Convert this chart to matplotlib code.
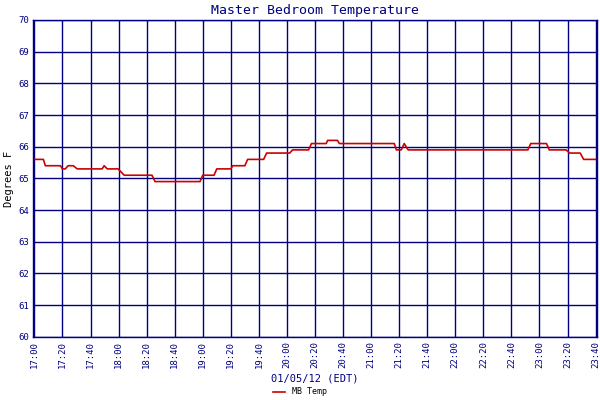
import matplotlib
matplotlib.use("Agg")
import matplotlib.pyplot as plt

minutes = [0, 6.4, 7.8, 18.5, 20, 22, 24, 27.7, 30.5, 48.3, 49.7, 51.9, 59.7, 64, 83.8, 86, 118, 120, 128,
           130, 140, 141.4, 150, 152, 163.4, 165.5, 182, 184, 195.4, 197.5, 208, 209, 216, 217.4, 256.5,
           258, 261.5, 263.6, 266.4, 351.7, 353.8, 365, 367, 379, 381.5, 389, 391.5, 400]
temps = [65.6, 65.6, 65.4, 65.4, 65.3, 65.3, 65.4, 65.4, 65.3, 65.3, 65.4, 65.3, 65.3, 65.1, 65.1, 64.9, 64.9, 65.1, 65.1,
         65.3, 65.3, 65.4, 65.4, 65.6, 65.6, 65.8, 65.8, 65.9, 65.9, 66.1, 66.1, 66.2, 66.2, 66.1, 66.1,
         65.9, 65.9, 66.1, 65.9, 65.9, 66.1, 66.1, 65.9, 65.9, 65.8, 65.8, 65.6, 65.6]
tick_labels = ["17:00", "17:20", "17:40", "18:00", "18:20", "18:40", "19:00", "19:20", "19:40", "20:00",
               "20:20", "20:40", "21:00", "21:20", "21:40", "22:00", "22:20", "22:40", "23:00", "23:20", "23:40"]
y_ticks = list(range(60, 71))

navy = "#000080"
plt.rcParams['font.family'] = ['DejaVu Sans Mono']
fig = plt.figure(figsize=(6, 4), dpi=100)
ax = fig.add_axes([0.055, 0.158, 0.94, 0.792])
ax.plot(minutes, temps, color="#cc0000", lw=1.2, label="MB Temp")
ax.set_xlim(-1, 401)
ax.set_ylim(60, 70)
ax.set_xticks([i * 20 for i in range(len(tick_labels))])
ax.set_xticklabels(tick_labels, rotation=90, fontsize=6.5, color=navy)
ax.set_yticks(y_ticks)
ax.set_yticklabels([str(v) for v in y_ticks], fontsize=6.5, color=navy)
ax.grid(True, color=navy, lw=1)
ax.tick_params(length=0, pad=3)
for s in ax.spines.values():
    s.set_color(navy)
    s.set_linewidth(1.0)
ax.set_title("Master Bedroom Temperature", color=navy, fontsize=9.5, pad=4)
ax.set_ylabel("Degrees F", fontsize=7.5, labelpad=3)
ax.set_xlabel("01/05/12 (EDT)", color=navy, fontsize=7.5, labelpad=4)
fig.legend(loc="lower center", bbox_to_anchor=(0.5, -0.01), frameon=False, fontsize=6, handlelength=1.5)
fig.savefig("out.png", dpi=100)
